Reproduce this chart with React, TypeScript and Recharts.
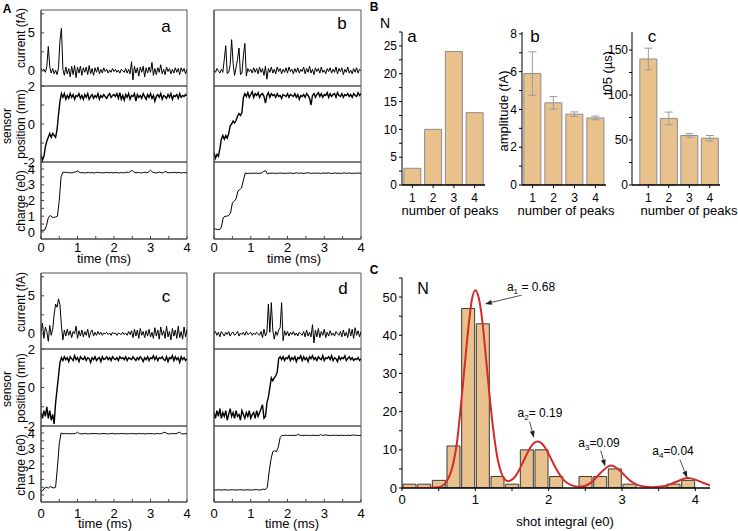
import React from 'react';
import { LineChart, Line, XAxis, YAxis, BarChart, Bar, ErrorBar, ComposedChart, ReferenceLine, ReferenceArea } from 'recharts';

const FONT = '"Liberation Sans", Arial, Helvetica, sans-serif';
const BAR_FILL = '#E9C18D';

// ---------- Panel A: traces (current dt=0.04 ms, position dt=0.04 ms, charge dt=0.05 ms) ----------
const DT_FAST = 0.04;
const DT_SLOW = 0.05;

const curA = [0.3,0.0,0.2,-0.2,0.6,3.2,0.5,-0.3,0.3,-0.4,
  0.1,-0.5,0.4,4.0,5.6,0.2,-0.6,0.5,-0.4,0.3,
  -0.8,0.6,-0.5,0.7,-0.9,0.5,-0.3,0.6,-0.6,0.4,
  -0.2,0.5,-0.5,0.7,-0.4,0.3,-0.6,0.4,-0.2,0.5,
  -0.4,0.2,-0.3,0.4,-0.1,0.2,-0.3,0.1,-0.2,0.3,
  -0.1,0.2,-0.2,0.1,-0.3,0.2,0.0,-0.2,0.3,-0.3,
  0.2,-0.4,1.2,-1.2,0.6,-0.3,0.4,-0.7,0.5,-0.2,
  0.6,-0.8,0.4,-0.3,0.5,-0.2,1.1,-0.6,0.3,-0.5,
  0.4,-0.2,0.8,-0.4,0.2,-0.5,0.5,-0.1,0.3,-0.4,
  0.2,-0.3,0.4,-0.2,0.3,-0.5,0.4,-0.1,0.3,-0.4,
  0.2];
const posA = [-1.6,-1.9,-1.7,-1.2,-0.9,-0.7,-0.5,-0.7,-0.5,-0.6,
  -0.7,-0.3,0.5,1.2,1.6,1.4,1.6,1.3,1.5,1.35,
  1.6,
  1.4,1.55,1.3,1.5,1.45,1.6,1.35,1.5,1.3,1.55,
  1.4,1.6,1.3,1.45,1.55,1.35,1.5,1.4,1.6,1.3,
  1.5,1.4,1.55,1.45,1.35,1.5,1.6,1.4,1.5,1.55,
  1.45,1.6,1.35,1.65,1.3,1.5,1.25,1.55,1.4,1.6,
  1.3,1.5,1.45,1.6,1.2,1.55,1.4,1.5,1.35,1.6,
  1.45,1.3,1.55,1.4,1.6,1.35,1.5,1.2,1.45,1.55,
  1.4,1.6,1.3,1.5,1.45,1.35,1.55,1.4,1.6,1.3,
  1.5,1.45,1.55,1.35,1.6,1.4,1.5,1.45,1.55,1.5];
const chgA = [0.1,0.1,0.12,0.4,0.9,1.05,0.95,0.92,0.95,1.0,
  2.0,3.5,3.8,3.78,3.8,3.76,3.78,3.75,3.8,3.82,
  3.88,3.8,3.76,3.78,3.75,3.77,3.79,3.76,3.78,3.75,
  3.77,3.8,3.76,3.78,3.75,3.77,3.79,3.76,3.78,3.77,
  3.76,3.78,3.77,3.75,3.78,3.76,3.77,3.8,3.78,3.85,
  3.92,3.8,3.76,3.78,3.77,3.75,3.78,3.8,3.76,3.82,
  3.93,3.82,3.77,3.75,3.78,3.8,3.77,3.76,3.85,3.8,
  3.76,3.78,3.77,3.8,3.76,3.78,3.77,3.75,3.78,3.77,
  3.76];

const curB = [0.1,-0.2,0.3,0.0,-0.3,0.2,-0.2,1.5,3.3,-0.4,
  -0.2,0.8,4.1,1.0,-0.6,0.4,1.5,3.0,-0.5,-0.3,
  2.0,3.6,-0.7,0.3,-0.1,0.2,-0.3,0.4,-0.2,0.3,
  -0.4,0.5,-0.2,0.3,-0.6,0.6,-1.1,0.3,-0.2,0.5,
  -0.3,0.2,-0.4,0.5,-0.1,0.3,-0.4,0.2,-0.2,0.4,
  -0.3,0.5,-0.1,0.2,-0.4,0.3,-0.2,0.4,-0.3,0.2,
  -0.1,0.5,-0.4,0.3,-0.2,0.6,-0.3,0.2,-0.5,0.4,
  -0.1,0.3,-0.3,0.5,-0.2,0.1,-0.4,0.3,-0.1,0.4,
  -0.3,0.2,-0.2,0.5,-0.4,0.3,-0.1,0.4,-0.5,0.2,
  -0.2,0.5,-0.3,0.1,-0.4,0.3,-0.2,0.4,-0.3,0.2,
  0.0];
const posB = [-1.5,-1.8,-1.6,-1.7,-1.3,-0.8,-0.6,-0.8,-0.6,-0.75,
  -0.5,-0.1,0.0,0.15,0.05,0.2,0.4,0.55,0.45,0.6,
  1.4,1.6,1.45,1.65,1.4,1.55,1.7,1.4,1.6,1.5,
  1.65,1.4,1.55,1.6,1.45,1.1,1.5,1.65,1.4,1.6,
  1.5,
  1.55,1.4,1.6,1.45,1.5,1.35,1.55,1.5,1.45,1.6,
  1.4,1.55,1.5,1.45,1.6,1.4,1.55,1.3,1.5,1.45,
  1.55,1.4,1.6,1.5,1.35,1.0,1.5,1.6,1.4,1.55,
  1.65,1.45,1.6,1.4,1.55,1.5,1.65,1.4,1.6,1.45,
  1.55,1.6,1.4,1.65,1.5,1.45,1.6,1.4,1.55,1.5,
  1.6,1.45,1.55,1.4,1.6,1.5,1.45,1.65,1.5,1.6];
const chgB = [0.2,0.18,0.15,0.15,0.3,0.9,1.0,1.0,1.05,1.2,
  1.85,1.95,2.1,2.6,2.7,2.8,3.3,3.75,3.72,3.74,
  3.72,3.74,3.73,3.75,3.72,3.74,3.76,3.85,3.9,3.7,
  3.74,3.73,3.75,3.72,3.74,3.73,3.75,3.74,3.72,3.74,
  3.73,3.75,3.74,3.72,3.74,3.76,3.73,3.75,3.74,3.72,
  3.75,3.77,3.74,3.72,3.75,3.74,3.73,3.75,3.72,3.74,
  3.75,3.73,3.76,3.74,3.72,3.74,3.75,3.73,3.74,3.72,
  3.74,3.76,3.73,3.74,3.75,3.72,3.74,3.73,3.75,3.74,
  3.73];

const curC = [0.2,1.4,-0.6,0.9,0.3,-1.0,1.1,-0.2,0.6,2.5,
  3.9,3.5,4.6,3.8,1.0,-0.8,0.5,-0.3,0.6,-0.2,
  0.4,-0.5,0.3,0.0,1.0,-0.6,0.4,-0.3,0.5,-0.4,
  0.3,-0.2,0.6,-0.5,0.2,0.5,-0.3,0.2,-0.2,0.3,
  -0.1,0.2,-0.2,0.1,0.0,0.2,-0.1,0.1,-0.2,0.2,
  0.0,0.1,-0.2,0.1,0.0,-0.1,0.2,-0.1,0.1,-0.2,
  0.3,-0.1,0.4,-0.5,0.6,-0.3,0.5,-0.6,0.7,-0.2,
  0.3,-0.5,0.4,-0.3,0.6,-0.4,0.2,-0.6,0.8,-0.3,
  0.5,-0.7,0.9,-0.2,0.4,-0.6,1.0,-0.4,0.3,-0.8,
  0.7,-0.3,0.5,-0.6,1.0,-0.5,0.3,-0.7,0.9,-0.4,
  0.6];
const posC = [-1.3,-1.6,-1.2,-1.5,-1.0,-1.6,-1.2,-1.7,-1.4,-1.9,
  -0.8,-0.1,0.6,1.3,1.55,
  1.4,1.6,1.45,1.55,1.35,1.6,1.5,1.4,1.65,1.45,
  1.55,1.35,1.6,1.5,1.45,1.6,1.4,1.55,1.5,1.3,
  1.55,1.45,1.6,1.4,1.5,1.55,1.35,1.6,1.45,1.5,
  1.6,1.45,1.55,1.4,1.6,1.5,1.45,1.55,1.4,1.6,
  1.5,1.55,1.45,1.6,1.4,1.55,1.5,1.45,1.6,1.5,
  1.4,1.55,1.45,1.6,1.5,1.35,1.55,1.45,1.6,1.4,
  1.55,1.5,1.65,1.45,1.6,1.4,1.55,1.5,1.6,1.45,
  1.4,1.6,1.35,1.55,1.5,1.65,1.4,1.6,1.45,1.55,
  1.3,1.6,1.45,1.55,1.4,1.5];
const chgC = [0.25,0.3,0.45,0.5,0.45,0.55,0.5,0.45,0.5,1.8,
  3.3,4.0,3.95,3.97,3.95,3.96,3.94,3.96,3.95,3.97,
  4.05,3.96,3.94,3.95,3.97,3.95,3.94,3.96,3.95,3.97,
  3.95,3.96,3.94,3.95,3.97,3.96,3.95,3.94,3.96,3.98,
  3.95,3.94,3.96,3.95,3.97,3.95,3.96,3.94,3.95,3.97,
  3.95,3.96,3.94,3.95,3.97,3.95,3.96,3.94,3.95,3.97,
  3.95,3.96,3.94,3.95,3.97,3.95,3.96,4.02,4.05,3.96,
  3.94,3.95,3.97,3.95,3.96,4.0,4.05,3.95,3.94,3.96,
  3.95];

const curD = [0.0,0.3,-0.2,0.2,-0.4,0.3,0.0,-0.3,0.2,-0.1,
  0.3,-0.3,0.1,0.2,-0.2,0.0,0.3,-0.3,0.1,-0.1,
  0.2,-0.2,0.3,-0.1,0.0,0.2,-0.2,0.1,-0.1,0.2,
  0.0,-0.2,0.3,-0.5,
  0.6,-0.3,0.2,3.9,0.2,4.1,0.5,-0.7,0.3,-0.2,0.5,0.8,4.1,-0.9,0.4,-0.2,0.3,
  -0.3,0.2,-0.1,0.3,-0.2,0.1,-0.3,0.2,0.0,-0.2,0.3,-0.4,0.5,-0.3,0.2,
  -0.4,1.2,-1.2,0.5,-0.4,0.7,-0.5,0.3,-0.2,0.6,-0.5,0.2,-0.3,0.4,-0.2,0.1,-0.3,0.3,0.0,-0.2,
  0.3,-0.4,0.5,-0.3,0.2,-0.5,0.7,-0.3,0.6,-0.6,0.8,-0.2,0.4,-0.4,0.3];
const posD = [-1.3,-1.6,-1.2,-1.5,-1.1,-1.6,-1.3,-1.5,-1.2,-1.7,
  -1.4,-1.1,-1.5,-1.3,-1.6,-1.2,-1.5,-1.4,-1.7,-1.2,
  -1.4,-1.6,-1.3,-1.5,-1.2,-1.6,-1.4,-1.3,-1.6,-1.2,
  -1.5,-1.3,-1.1,-0.9,-1.6,
  -1.5,-0.8,-0.5,0.0,0.5,0.35,0.5,0.6,0.8,1.5,1.6,
  1.45,1.6,1.4,1.55,1.5,1.65,1.4,1.55,1.45,1.6,
  1.35,1.55,1.5,1.65,1.4,1.6,1.45,1.55,1.35,1.6,
  1.5,1.65,1.45,1.55,1.4,1.6,1.5,1.45,1.65,1.4,
  1.55,1.5,1.6,1.45,1.65,1.4,1.55,1.5,1.35,1.6,
  1.45,1.55,1.5,1.65,1.4,1.5,1.6,1.45,1.55,1.4,
  1.5,1.45,1.55,1.4,1.5];
const chgD = [0.33,0.32,0.34,0.33,0.32,0.33,0.34,0.33,0.32,0.33,
  0.34,0.33,0.32,0.33,0.34,0.33,0.32,0.33,0.34,0.33,
  0.32,0.33,0.34,0.35,0.33,0.32,0.35,0.38,0.35,
  0.5,1.5,2.3,2.8,2.85,2.8,3.1,3.7,3.85,3.83,3.86,3.84,
  3.85,3.83,3.86,3.84,3.85,3.92,3.84,3.85,3.83,3.86,
  3.84,3.85,3.83,3.86,3.84,3.85,3.83,3.9,3.84,3.86,
  3.88,3.84,3.85,3.83,3.86,3.84,3.85,3.83,3.86,3.84,
  3.85,3.83,3.86,3.84,3.85,3.88,3.84,3.85,3.83,3.86];

const X_TICKS = [0, 0.5, 1, 1.5, 2, 2.5, 3, 3.5, 4];
const X_LABELS = [0, 1, 2, 3, 4];
const CUR_DOMAIN: [number, number] = [-2, 8];
const CUR_TICKS = [0, 2.5, 5, 7.5];
const CUR_LABELS = [0, 5];
const POS_DOMAIN: [number, number] = [-2, 2];
const POS_TICKS = [-2, -1, 0, 1, 2];
const POS_LABELS = [-2, 0, 2];
const CHG_DOMAIN: [number, number] = [-0.45, 4.45];
const CHG_TICKS = [0, 0.5, 1, 1.5, 2, 2.5, 3, 3.5, 4];
const CHG_LABELS = [0, 1, 2, 3, 4];

// ---------- Panel B ----------
const peakCategories = ['1', '2', '3', '4'];
const peakCounts = [3, 10, 24, 13];
const amplitudes = [5.9, 4.35, 3.75, 3.55];
const amplitudeErr = [1.15, 0.33, 0.12, 0.1];
const t05Values = [140, 74, 55, 52];
const t05Err = [12, 7, 2, 3];

// ---------- Panel C ----------
const binCenters = [0.1,0.3,0.5,0.7,0.9,1.1,1.3,1.5,1.7,1.9,2.1,2.3,2.5,2.7,2.9,3.1,3.3,3.5,3.7,3.9,4.1];
const binCounts = [1,1,2,11,47,43,3,1,10,10,3,0,3,3,5,1,0,0,1,2,0];
const fitX = [0,0.2,0.4,0.5,0.55,0.6,0.65,0.7,0.75,0.8,0.85,0.9,0.95,1.0,1.05,1.1,1.15,1.2,1.25,1.3,1.35,1.4,1.45,1.5,1.55,1.6,1.65,1.7,1.75,1.8,1.85,1.9,1.95,2.0,2.05,2.1,2.15,2.2,2.3,2.4,2.5,2.6,2.7,2.8,2.85,2.9,3.0,3.1,3.2,3.3,3.4,3.5,3.6,3.7,3.8,3.9,4.0,4.1,4.2];
const fitY = [0,0,0.05,0.2,0.6,1.5,3.3,6.5,12,21,31,41,49,51.8,49.5,43,33,23,14.5,8,4.2,2.3,1.8,2.2,3.2,4.8,6.8,8.8,10.6,11.8,12.2,11.8,10.6,8.9,7.0,5.1,3.5,2.2,0.8,0.35,0.6,1.8,3.8,5.5,5.9,5.6,4.0,2.1,0.9,0.4,0.2,0.3,0.6,1.3,2.1,2.6,2.2,1.4,0.7];
const annotations = [
  { from: { x: 1.63, y: 50.5 }, to: { x: 1.13, y: 48.2 } },
  { from: { x: 1.74, y: 17.4 }, to: { x: 1.8, y: 13.1 } },
  { from: { x: 2.71, y: 9.8 }, to: { x: 2.77, y: 5.6 } },
  { from: { x: 3.79, y: 7.4 }, to: { x: 3.89, y: 2.6 } },
];

const tickFont = { fill: '#000', fontSize: 13, fontFamily: FONT };
const blackLine = { stroke: '#000', strokeWidth: 1 };
const frameLine = { stroke: '#444', strokeWidth: 1 };

type TraceProps = {
  left: number; top: number; w: number; h: number;
  values: number[]; dt: number;
  domain: [number, number]; ticks: number[]; labels: number[];
  showY: boolean; showX: boolean; xGap?: number; sw?: number;
};

function Trace(p: TraceProps) {
  const data = p.values.map((v, i) => ({ t: Math.round(i * p.dt * 1000) / 1000, v }));
  const YW = 30;
  const M = 9;
  const XH = p.showX ? 26 : 0;
  return (
    <div style={{ position: 'absolute', left: p.left - YW, top: p.top - M }}>
      <LineChart width={YW + p.w + M} height={M + p.h + XH + M} data={data}
        margin={{ top: M, right: M, bottom: M, left: 0 }}>
        <XAxis dataKey="t" type="number" domain={[0, 4]} ticks={X_TICKS} interval={0} height={XH}
          allowDataOverflow axisLine={frameLine} tickLine={frameLine} tickSize={-3} tickMargin={p.xGap ?? 7}
          tick={p.showX ? tickFont : false}
          tickFormatter={(v: number) => (X_LABELS.includes(v) ? String(v) : '')} />
        <XAxis xAxisId="top" orientation="top" dataKey="t" type="number" domain={[0, 4]} ticks={X_TICKS}
          interval={0} height={0} allowDataOverflow axisLine={frameLine} tickLine={frameLine} tickSize={-3} tick={false} />
        <YAxis type="number" domain={p.domain} ticks={p.ticks} interval={0} width={YW} allowDataOverflow
          axisLine={frameLine} tickLine={frameLine} tickSize={-3} tickMargin={9}
          tick={p.showY ? tickFont : false}
          tickFormatter={(v: number) => (p.labels.includes(v) ? String(v) : '')} />
        <YAxis yAxisId="right" orientation="right" type="number" domain={p.domain} ticks={p.ticks} interval={0}
          width={0} allowDataOverflow axisLine={frameLine} tickLine={frameLine} tickSize={-3} tick={false} />
        <ReferenceArea x1={0} x2={4} y1={p.domain[0]} y2={p.domain[1]} fill="none" fillOpacity={0}
          stroke="#555" strokeWidth={1} ifOverflow="visible" />
        <Line dataKey="v" type="linear" stroke="#000" strokeWidth={p.sw ?? 1} dot={false} isAnimationActive={false} />
      </LineChart>
    </div>
  );
}

function TraceStack(props: {
  left: number; w: number; tops: [number, number, number]; hs: [number, number, number];
  cur: number[]; pos: number[]; chg: number[]; showY: boolean; xGap: number;
}) {
  const { left, w, tops, hs } = props;
  return (
    <>
      <Trace left={left} top={tops[0]} w={w} h={hs[0]} values={props.cur} dt={DT_FAST}
        domain={CUR_DOMAIN} ticks={CUR_TICKS} labels={CUR_LABELS} showY={props.showY} showX={false} sw={1} />
      <Trace left={left} top={tops[1]} w={w} h={hs[1]} values={props.pos} dt={DT_FAST}
        domain={POS_DOMAIN} ticks={POS_TICKS} labels={POS_LABELS} showY={props.showY} showX={false} sw={1.4} />
      <Trace left={left} top={tops[2]} w={w} h={hs[2]} values={props.chg} dt={DT_SLOW}
        domain={CHG_DOMAIN} ticks={CHG_TICKS} labels={CHG_LABELS} showY={props.showY} showX={true} xGap={props.xGap} sw={1} />
    </>
  );
}

type PeakProps = {
  left: number; top: number; w: number; h: number;
  values: number[]; errors?: number[];
  domain: [number, number]; ticks: number[]; labels: number[]; padLeft?: number; gapY?: number;
};

function PeakChart(p: PeakProps) {
  const data = peakCategories.map((k, i) => ({
    k, v: p.values[i], e: p.errors ? p.errors[i] : 0,
  }));
  const YW = 40;
  const M = 4;
  const XH = 22;
  const font = { fill: '#000', fontSize: 12, fontFamily: FONT };
  return (
    <div style={{ position: 'absolute', left: p.left - YW, top: p.top - M }}>
      <BarChart width={YW + p.w + M} height={M + p.h + XH} data={data}
        margin={{ top: M, right: M, bottom: 0, left: 0 }} barCategoryGap="9%">
        <XAxis dataKey="k" height={XH} interval={0} padding={{ left: p.padLeft ?? 0, right: 0 }}
          axisLine={blackLine} tickLine={blackLine} tickSize={3} tickMargin={5} tick={font} />
        <YAxis type="number" domain={p.domain} ticks={p.ticks} interval={0} width={YW} allowDataOverflow
          axisLine={blackLine} tickLine={blackLine} tickSize={3} tickMargin={p.gapY ?? 2} tick={font}
          tickFormatter={(v: number) => (p.labels.includes(v) ? String(v) : '')} />
        <Bar dataKey="v" fill={BAR_FILL} stroke="#8c8c8c" strokeWidth={1} isAnimationActive={false}>
          {p.errors ? <ErrorBar dataKey="e" width={4} stroke="#9a9a9a" strokeWidth={1} direction="y" /> : null}
        </Bar>
        <ReferenceLine y={0} stroke="#000" strokeWidth={1} ifOverflow="visible" />
      </BarChart>
    </div>
  );
}

const Arrow = (props: any) => {
  const { x1, y1, x2, y2 } = props;
  const ang = Math.atan2(y2 - y1, x2 - x1);
  const L = 7;
  const W = 2.4;
  const bx = x2 - L * Math.cos(ang);
  const by = y2 - L * Math.sin(ang);
  const px = -Math.sin(ang) * W;
  const py = Math.cos(ang) * W;
  return (
    <g>
      <line x1={x1} y1={y1} x2={bx} y2={by} stroke="#222" strokeWidth={0.8} />
      <polygon points={`${x2},${y2} ${bx + px},${by + py} ${bx - px},${by - py}`} fill="#222" />
    </g>
  );
};

function Txt(props: { x: number; y: number; size?: number; rotate?: number; bold?: boolean; children: React.ReactNode }) {
  const { x, y, size = 12, rotate = 0, bold = false } = props;
  return (
    <div style={{
      position: 'absolute', left: x, top: y, transform: `translate(-50%, -50%) rotate(${rotate}deg)`,
      fontSize: size, lineHeight: 1, whiteSpace: 'nowrap', fontWeight: bold ? 'bold' : 'normal',
      color: '#000', fontFamily: FONT,
    }}>{props.children}</div>
  );
}

const Sub = ({ children }: { children: React.ReactNode }) => (
  <span style={{ fontSize: 8, position: 'relative', top: 3 }}>{children}</span>
);

function HistChart() {
  const data = binCenters.map((x, i) => ({ x, bin: String(x), n: binCounts[i] }));
  const fit = fitX.map((x, i) => ({ x, y: fitY[i] }));
  const YW = 40;
  const M = 6;
  const XH = 26;
  const left = 402;
  const top = 278;
  const w = 308;
  const h = 210;
  return (
    <div style={{ position: 'absolute', left: left - YW, top: top - M }}>
      <ComposedChart width={YW + w + 8} height={M + h + XH} data={data}
        margin={{ top: M, right: 8, bottom: 0, left: 0 }} barCategoryGap={1}>
        <XAxis xAxisId="bins" dataKey="bin" type="category" hide height={0} />
        <XAxis xAxisId="num" dataKey="x" type="number" domain={[0, 4.2]} ticks={X_TICKS} interval={0} height={XH}
          allowDataOverflow axisLine={blackLine} tickLine={blackLine} tickSize={3} tickMargin={4} tick={tickFont}
          tickFormatter={(v: number) => (X_LABELS.includes(v) ? String(v) : '')} />
        <YAxis type="number" domain={[0, 55]} ticks={[0, 5, 10, 15, 20, 25, 30, 35, 40, 45, 50, 55]} interval={0}
          width={YW} allowDataOverflow axisLine={blackLine} tickLine={blackLine} tickSize={3} tickMargin={2}
          tick={tickFont} tickFormatter={(v: number) => (v % 10 === 0 ? String(v) : '')} />
        <Bar xAxisId="bins" dataKey="n" fill={BAR_FILL} stroke="#3c3c3c" strokeWidth={1} isAnimationActive={false} />
        <ReferenceLine xAxisId="num" y={0} stroke="#000" strokeWidth={1} ifOverflow="visible" />
        <Line xAxisId="num" data={fit} dataKey="y" type="monotone" stroke="#D42A2A" strokeWidth={2} dot={false} isAnimationActive={false} />
        {annotations.map((a, i) => (
          <ReferenceLine key={i} xAxisId="num" segment={[a.from, a.to]} shape={Arrow} ifOverflow="visible" />
        ))}
      </ComposedChart>
    </div>
  );
}

export default function App() {
  return (
    <div style={{ position: 'absolute', left: 0, top: 0, width: 738, height: 531, background: '#fff', fontFamily: FONT, overflow: 'hidden' }}>
      {/* Panel A */}
      <Txt x={7} y={9} size={12} bold>A</Txt>
      <TraceStack left={41} w={146} tops={[10, 86, 162]} hs={[76, 76, 77]} cur={curA} pos={posA} chg={chgA} showY xGap={7} />
      <TraceStack left={214} w={147} tops={[10, 86, 162]} hs={[76, 76, 77]} cur={curB} pos={posB} chg={chgB} showY={false} xGap={7} />
      <TraceStack left={41} w={146} tops={[273, 349, 426]} hs={[76, 77, 76]} cur={curC} pos={posC} chg={chgC} showY xGap={10} />
      <TraceStack left={214} w={147} tops={[273, 349, 426]} hs={[76, 77, 76]} cur={curD} pos={posD} chg={chgD} showY={false} xGap={10} />

      <Txt x={21} y={38} rotate={-90}>current (fA)</Txt>
      <Txt x={7} y={126} rotate={-90}>sensor</Txt>
      <Txt x={21} y={124} rotate={-90}>position (nm)</Txt>
      <Txt x={21} y={201} rotate={-90}>charge (e0)</Txt>
      <Txt x={21} y={302} rotate={-90}>current (fA)</Txt>
      <Txt x={7} y={389} rotate={-90}>sensor</Txt>
      <Txt x={21} y={388} rotate={-90}>position (nm)</Txt>
      <Txt x={21} y={465} rotate={-90}>charge (e0)</Txt>

      <Txt x={166} y={26} size={17}>a</Txt>
      <Txt x={342} y={23} size={17}>b</Txt>
      <Txt x={166} y={296} size={17}>c</Txt>
      <Txt x={343} y={288} size={17}>d</Txt>

      <Txt x={104} y={258} size={13}>time (ms)</Txt>
      <Txt x={294} y={258} size={13}>time (ms)</Txt>
      <Txt x={105} y={523} size={13}>time (ms)</Txt>
      <Txt x={292} y={523} size={13}>time (ms)</Txt>

      {/* Panel B */}
      <Txt x={374} y={7} size={12} bold>B</Txt>
      <PeakChart left={402} top={32} w={83} h={153} values={peakCounts}
        domain={[0, 27.5]} ticks={[0, 2.5, 5, 7.5, 10, 12.5, 15, 17.5, 20, 22.5, 25, 27.5]} labels={[0, 5, 10, 15, 20, 25]} />
      <PeakChart left={522} top={32} w={84} h={153} values={amplitudes} errors={amplitudeErr}
        domain={[0, 8.1]} ticks={[0, 1, 2, 3, 4, 5, 6, 7, 8]} labels={[0, 2, 4, 6, 8]} />
      <PeakChart left={632} top={32} w={88} h={153} values={t05Values} errors={t05Err} padLeft={6}
        domain={[0, 170]} ticks={[0, 25, 50, 75, 100, 125, 150]} labels={[0, 50, 100, 150]} gapY={1} />
      <Txt x={385} y={23} size={14}>N</Txt>
      <Txt x={412} y={36} size={17}>a</Txt>
      <Txt x={535} y={36} size={17}>b</Txt>
      <Txt x={652} y={36} size={17}>c</Txt>
      <Txt x={503} y={111} size={13} rotate={-90}>amplitude (fA)</Txt>
      <Txt x={607} y={73} size={13} rotate={-90}>t05 (µs)</Txt>
      <Txt x={450} y={210} size={13}>number of peaks</Txt>
      <Txt x={566} y={210} size={13}>number of peaks</Txt>
      <Txt x={689} y={210} size={13}>number of peaks</Txt>

      {/* Panel C */}
      <Txt x={374} y={270} size={12} bold>C</Txt>
      <HistChart />
      <Txt x={423} y={289} size={16}>N</Txt>
      <Txt x={531} y={287} size={12}>a<Sub>1</Sub> = 0.68</Txt>
      <Txt x={540} y={413} size={12}>a<Sub>2</Sub>= 0.19</Txt>
      <Txt x={599} y={443} size={12}>a<Sub>3</Sub>=0.09</Txt>
      <Txt x={673} y={451} size={12}>a<Sub>4</Sub>=0.04</Txt>
      <Txt x={565} y={521} size={13}>shot integral (e0)</Txt>
    </div>
  );
}
